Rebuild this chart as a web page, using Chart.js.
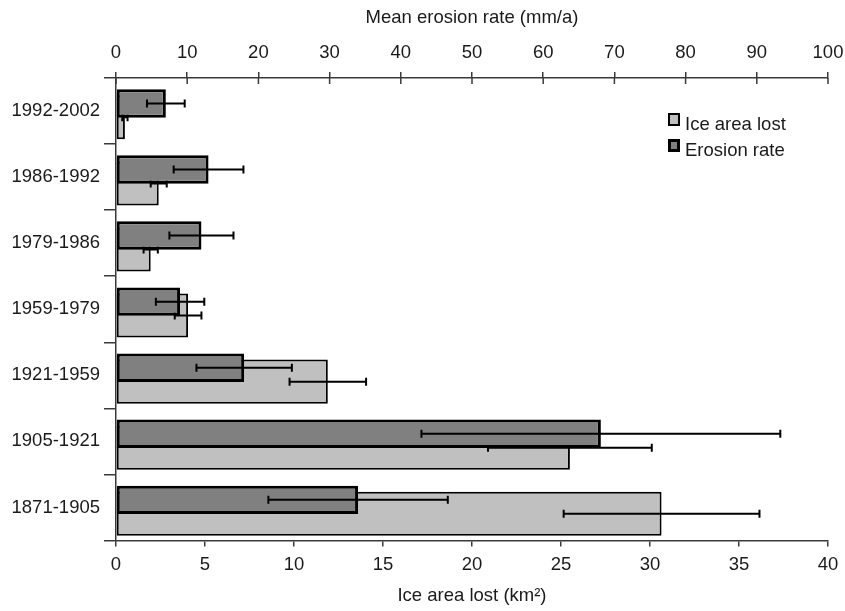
<!DOCTYPE html>
<html>
<head>
<meta charset="utf-8">
<script src="https://cdn.jsdelivr.net/npm/chart.js@4"></script>
<style>
  body { margin: 0; background: #fff; }
  canvas { display: block; }
</style>
</head>
<body>
<canvas id="grafico-erosao" width="845" height="611"></canvas>
<script>
const periods = ["1992-2002", "1986-1992", "1979-1986", "1959-1979", "1921-1959", "1905-1921", "1871-1905"];
const erosionRate = [7.0, 13.0, 12.0, 9.0, 18.0, 68.1, 34.0];
const erosionErr = [2.65, 4.9, 4.5, 3.4, 6.7, 25.2, 12.6];
const iceArea = [0.5, 2.4, 1.95, 4.05, 11.9, 25.5, 30.65];
const iceErr = [0.15, 0.45, 0.4, 0.75, 2.15, 4.6, 5.5];

const fontSpec = { family: "'Liberation Sans', Arial, sans-serif", size: 18.5 };
const textColor = "#1a1a1a";
const axisColor = "#3a3a3a";

// error bars, drawn right after each dataset so the dark bars cover the light ones
const errorBars = {
  id: "errorBars",
  afterDatasetDraw(chart, args) {
    const ds = chart.data.datasets[args.index];
    const meta = args.meta;
    const xScale = chart.scales[meta.xAxisID];
    const c = chart.ctx;
    c.save();
    c.strokeStyle = "#000";
    c.lineWidth = 2;
    meta.data.forEach((bar, i) => {
      const v = ds.data[i];
      const e = ds.errors[i];
      const x1 = xScale.getPixelForValue(v - e);
      const x2 = xScale.getPixelForValue(v + e);
      const y = bar.y;
      c.beginPath();
      c.moveTo(x1, y); c.lineTo(x2, y);
      c.moveTo(x1, y - 4); c.lineTo(x1, y + 4);
      c.moveTo(x2, y - 4); c.lineTo(x2, y + 4);
      c.stroke();
    });
    c.restore();
  },
};

// top axis ticks cross the axis line, add the inner half
const crossTicks = {
  id: "crossTicks",
  afterDraw(chart) {
    const s = chart.scales.x2;
    const c = chart.ctx;
    c.save();
    c.strokeStyle = axisColor;
    c.lineWidth = 1.5;
    s.ticks.forEach(t => {
      const x = s.getPixelForValue(t.value);
      c.beginPath();
      c.moveTo(x, s.bottom);
      c.lineTo(x, s.bottom + 6);
      c.stroke();
    });
    c.restore();
  },
};

// legend inside the plot, top right
const legendBox = {
  id: "legendBox",
  afterDraw(chart) {
    const c = chart.ctx;
    const items = [
      { label: "Ice area lost", fill: "#c0c0c0", width: 2, y: 113 },
      { label: "Erosion rate", fill: "#808080", width: 3, y: 139 },
    ];
    c.save();
    c.font = fontSpec.size + "px " + fontSpec.family;
    c.textBaseline = "alphabetic";
    items.forEach(it => {
      c.fillStyle = it.fill;
      c.fillRect(668, it.y, 12, 13);
      c.strokeStyle = "#000";
      c.lineWidth = it.width;
      c.strokeRect(668 + it.width / 2, it.y + it.width / 2, 12 - it.width, 13 - it.width);
      c.fillStyle = textColor;
      c.fillText(it.label, 685, it.y + 17);
    });
    c.restore();
  },
};

function fixSide(s) {
  s.paddingLeft = 0;
  s.paddingRight = 17;
}

const ctxErosao = document.getElementById("grafico-erosao").getContext("2d");
const chartErosao = {
  labels: periods,
  datasets: [
    {
      label: "Erosion rate",
      data: erosionRate,
      errors: erosionErr,
      xAxisID: "x2",
      stack: "erosion",
      backgroundColor: "#808080",
      borderColor: "#000",
      borderWidth: 3,
      borderSkipped: false,
      categoryPercentage: 0.46,
      barPercentage: 1.87,
    },
    {
      label: "Ice area lost",
      data: iceArea,
      errors: iceErr,
      xAxisID: "x",
      stack: "ice",
      backgroundColor: "#c0c0c0",
      borderColor: "#000",
      borderWidth: 2,
      borderSkipped: false,
      categoryPercentage: 0.382,
      barPercentage: 3.49,
    },
  ],
};
const erosaoConfig = {
  type: "bar",
  data: chartErosao,
  plugins: [errorBars, crossTicks, legendBox],
  options: {
    indexAxis: "y",
    responsive: false,
    animation: false,
    devicePixelRatio: 1,
    layout: { padding: 0 },
    scales: {
      y: {
        type: "category",
        afterFit(s) { s.width = 116; },
        grid: { drawOnChartArea: false, tickLength: 12, color: axisColor, lineWidth: 1.5 },
        border: { color: axisColor, width: 1.5 },
        ticks: { color: textColor, font: fontSpec, padding: 4 },
      },
      x: {
        position: "bottom",
        min: 0,
        max: 40,
        afterFit(s) { s.height = 70.5; fixSide(s); },
        grid: { drawOnChartArea: false, tickLength: 6, color: axisColor, lineWidth: 1.5 },
        border: { color: axisColor, width: 1.5 },
        ticks: { stepSize: 5, color: textColor, font: fontSpec, padding: 7 },
        title: { display: true, text: "Ice area lost (km²)", color: textColor, font: fontSpec, padding: { top: 0, bottom: 4 } },
      },
      x2: {
        position: "top",
        min: 0,
        max: 100,
        afterFit(s) { s.height = 78; fixSide(s); },
        grid: { drawOnChartArea: false, tickLength: 6, color: axisColor, lineWidth: 1.5 },
        border: { color: axisColor, width: 1.5 },
        ticks: { stepSize: 10, color: textColor, font: fontSpec, padding: 8 },
        title: { display: true, text: "Mean erosion rate (mm/a)", color: textColor, font: fontSpec, padding: { top: 7, bottom: 0 } },
      },
    },
    plugins: {
      legend: { display: false },
      tooltip: { enabled: false },
    },
  },
};
const graficoErosao = new Chart(ctxErosao, erosaoConfig);
</script>
</body>
</html>
